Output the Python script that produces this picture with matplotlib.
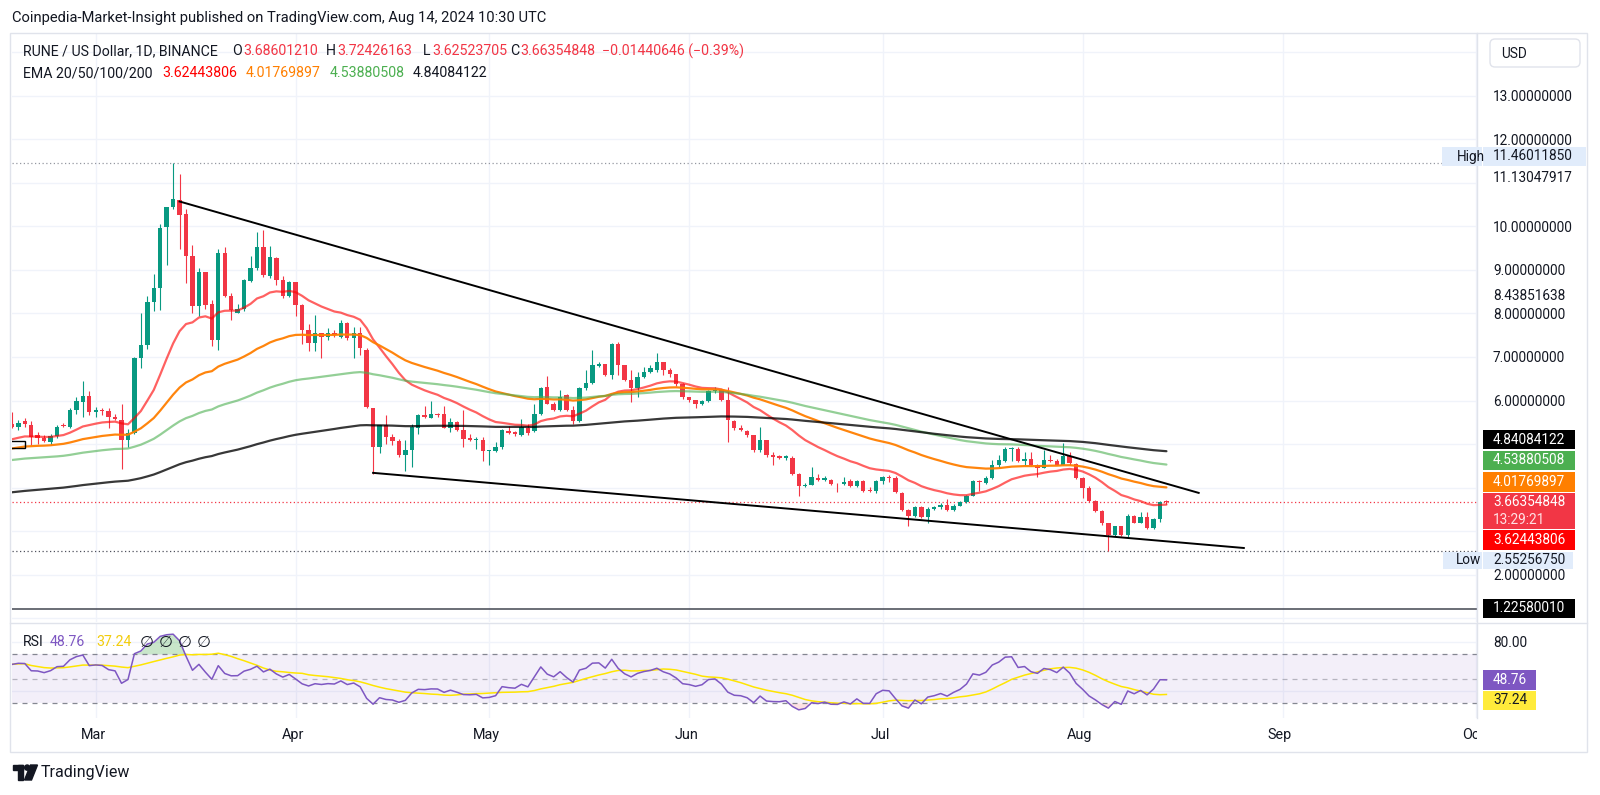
import numpy as np
import pandas as pd
import matplotlib
matplotlib.use('Agg')
import matplotlib.pyplot as plt
import matplotlib.dates as mdates
from matplotlib.patches import Rectangle, FancyBboxPatch, Circle, Polygon
from matplotlib.transforms import Bbox

plt.rcParams['font.family'] = ['Roboto', 'DejaVu Sans']

# RUNE/USD daily candles (Feb 17 .. Aug 14 2024)
dates = pd.date_range('2024-02-17', '2024-08-14', freq='D')

opens = [
    5.47, 5.40, 5.52, 5.45, 5.22, 5.15, 5.05, 5.18, 5.45, 5.40, 5.78, 5.97, 6.10,
    5.73, 5.78, 5.75, 5.63, 5.55, 5.10, 5.25, 6.97, 7.28, 8.27, 8.58, 9.98, 10.44, 10.60, 10.29, 9.31,
    8.17, 8.96, 8.22, 7.39, 9.39, 8.40, 8.02, 8.10, 8.74, 9.04, 9.52, 8.87, 9.27, 8.76, 8.39,
    8.72, 8.20, 7.62, 7.33, 7.55, 7.45, 7.55, 7.46, 7.79, 7.44, 7.55, 7.17, 5.82, 4.93, 5.43,
    5.16, 5.08, 4.74, 4.87, 5.38, 5.66, 5.61, 5.69, 5.68, 5.37, 5.50, 5.32, 5.14, 5.10, 5.10,
    4.84, 4.84, 4.93, 5.30, 5.28, 5.22, 5.37, 5.30, 5.70, 6.30, 5.93, 5.79, 6.12, 5.79, 5.53, 6.28,
    6.41, 6.79, 6.83, 6.58, 7.30, 6.81, 6.48, 6.28, 6.53, 6.66, 6.70, 6.89, 6.71, 6.60, 6.39,
    6.07, 6.02, 5.92, 5.99, 6.22, 6.24, 6.01, 5.53, 5.37, 5.30, 5.20, 4.86, 5.09, 4.76, 4.72,
    4.68, 4.69, 4.32, 4.03, 4.07, 4.22, 4.18, 4.18, 4.09, 4.08, 4.15, 4.03, 4.15, 3.93, 3.92,
    4.15, 4.24, 4.22, 3.87, 3.49, 3.34, 3.55, 3.32, 3.51, 3.55, 3.61, 3.49, 3.59, 3.67, 3.82, 4.16,
    4.10, 4.22, 4.51, 4.61, 4.89, 4.89, 4.62, 4.66, 4.53, 4.46, 4.64, 4.61, 4.53, 4.72, 4.55,
    4.23, 4.00, 3.69, 3.47, 3.18, 2.92, 3.11, 2.92, 3.36, 3.20, 3.32, 3.07, 3.28, 3.68601210,
]
highs = [
    5.74, 5.56, 5.60, 5.52, 5.28, 5.20, 5.24, 5.45, 5.49, 5.82, 6.07, 6.45, 6.22,
    5.85, 5.84, 5.82, 5.69, 5.91, 5.35, 7.01, 8.00, 8.39, 8.91, 10.05, 10.45, 11.46011850, 11.19, 10.39, 9.58,
    9.04, 8.96, 8.30, 9.48, 9.52, 8.46, 8.22, 8.78, 9.31, 9.86, 9.91, 9.55, 9.29, 8.85, 8.74,
    8.72, 8.22, 7.76, 7.97, 7.56, 7.66, 7.63, 7.86, 7.81, 7.68, 7.68, 7.20, 5.82, 5.45, 5.66,
    5.24, 5.12, 5.09, 5.47, 5.70, 5.87, 5.98, 5.71, 5.87, 5.60, 5.54, 5.79, 5.24, 5.16, 5.16,
    4.86, 5.05, 5.34, 5.42, 5.30, 5.58, 5.47, 5.93, 6.30, 6.56, 5.97, 6.24, 6.16, 5.87, 6.31, 6.70,
    7.16, 6.89, 6.85, 7.32, 7.35, 6.81, 6.70, 6.66, 6.78, 6.81, 7.10, 6.89, 6.74, 6.62, 6.41,
    6.09, 6.02, 6.02, 6.25, 6.31, 6.26, 6.31, 5.55, 5.43, 5.32, 5.22, 5.39, 5.10, 4.81, 4.74,
    4.74, 4.72, 4.34, 4.10, 4.47, 4.32, 4.26, 4.20, 4.11, 4.24, 4.20, 4.18, 4.17, 4.02, 4.17,
    4.27, 4.30, 4.26, 3.91, 3.52, 3.57, 3.57, 3.55, 3.57, 3.64, 3.74, 3.63, 3.70, 3.84, 4.18, 4.18,
    4.26, 4.64, 4.74, 4.93, 4.93, 4.93, 4.81, 4.81, 4.55, 4.87, 4.74, 4.66, 5.02, 4.81, 4.57,
    4.25, 4.03, 3.72, 3.49, 3.18, 3.13, 3.13, 3.40, 3.38, 3.43, 3.43, 3.30, 3.69, 3.72426163,
]
lows = [
    5.36, 5.32, 5.39, 4.97, 5.01, 5.05, 4.97, 5.14, 5.39, 5.36, 5.70, 5.63, 5.66,
    5.62, 5.66, 5.38, 5.55, 4.43, 4.93, 5.24, 6.74, 7.19, 8.06, 8.08, 9.11, 10.40, 9.48, 8.71, 8.02,
    7.93, 8.10, 7.25, 7.17, 8.38, 7.85, 8.00, 8.06, 8.72, 9.00, 8.83, 8.82, 8.66, 8.35, 8.37,
    7.93, 7.30, 7.14, 7.14, 6.98, 7.40, 7.47, 7.43, 7.39, 6.97, 7.04, 5.82, 4.31, 4.79, 5.01,
    4.97, 4.70, 4.39, 4.47, 5.24, 5.59, 5.60, 5.62, 5.36, 5.27, 5.30, 4.93, 5.08, 4.89, 4.61,
    4.51, 4.82, 4.89, 5.24, 5.19, 5.18, 5.21, 5.28, 5.66, 5.92, 5.77, 5.77, 5.77, 5.47, 5.51, 6.24,
    6.39, 6.77, 6.56, 6.50, 6.58, 6.46, 5.97, 6.09, 6.51, 6.64, 6.66, 6.58, 6.55, 6.33, 6.03,
    5.97, 5.82, 5.90, 5.97, 6.18, 5.99, 5.05, 5.32, 5.30, 5.17, 4.82, 4.82, 4.70, 4.51, 4.66,
    4.64, 4.28, 3.82, 4.01, 4.05, 4.15, 4.16, 4.07, 3.89, 4.05, 4.01, 4.01, 3.90, 3.90, 3.87,
    4.09, 4.12, 3.87, 3.47, 3.11, 3.32, 3.31, 3.18, 3.49, 3.51, 3.47, 3.47, 3.57, 3.65, 3.80, 3.92,
    4.08, 4.20, 4.44, 4.59, 4.61, 4.60, 4.51, 4.49, 4.24, 4.44, 4.59, 4.51, 4.51, 4.53, 4.21,
    3.77, 3.67, 3.45, 3.15, 2.55256750, 2.90, 2.90, 2.87, 3.18, 3.18, 3.05, 3.05, 3.21, 3.62523705,
]
closes = [
    5.40, 5.48, 5.47, 5.16, 5.15, 5.08, 5.18, 5.39, 5.41, 5.78, 5.99, 6.10, 5.74,
    5.78, 5.76, 5.62, 5.58, 5.10, 5.25, 6.97, 7.28, 8.27, 8.58, 9.95, 10.44, 10.62, 10.27, 9.31, 8.16,
    8.96, 8.20, 7.39, 9.39, 8.40, 8.08, 8.10, 8.76, 9.04, 9.52, 8.89, 9.29, 8.76, 8.39, 8.72,
    8.20, 7.61, 7.33, 7.56, 7.47, 7.55, 7.51, 7.77, 7.43, 7.55, 7.20, 5.86, 4.93, 5.43, 5.16,
    5.08, 4.74, 4.87, 5.39, 5.66, 5.63, 5.68, 5.67, 5.37, 5.50, 5.32, 5.12, 5.10, 5.12, 4.84,
    4.86, 4.93, 5.32, 5.26, 5.23, 5.39, 5.26, 5.70, 6.28, 5.93, 5.79, 6.09, 5.79, 5.53, 6.28, 6.41,
    6.81, 6.83, 6.58, 7.30, 6.81, 6.48, 6.28, 6.53, 6.66, 6.74, 6.89, 6.71, 6.60, 6.39, 6.07,
    6.02, 5.92, 5.99, 6.22, 6.25, 6.01, 5.56, 5.36, 5.33, 5.20, 4.86, 5.09, 4.74, 4.70, 4.69,
    4.72, 4.32, 4.03, 4.07, 4.24, 4.18, 4.22, 4.09, 4.08, 4.14, 4.03, 4.15, 3.92, 3.92, 4.15,
    4.24, 4.22, 3.89, 3.49, 3.34, 3.55, 3.32, 3.51, 3.55, 3.61, 3.49, 3.59, 3.67, 3.82, 4.16, 4.12,
    4.22, 4.51, 4.64, 4.89, 4.91, 4.62, 4.66, 4.51, 4.46, 4.64, 4.61, 4.53, 4.72, 4.56, 4.23,
    4.00, 3.69, 3.47, 3.18, 2.92, 3.11, 2.92, 3.36, 3.20, 3.32, 3.07, 3.28, 3.67, 3.66354848,
]

# EMA settings and their values on the first visible day
ema_spans = [20, 50, 100, 200]
ema_seeds = [5.11, 4.90, 4.635, 3.894]
ema_colors = ['#FF0000', '#FF7F00', '#4CAF50', '#000000']
ema_alphas = [0.62, 0.95, 0.6, 0.78]

# chart drawings
upper_line_dates = ['2024-03-14', '2024-08-19']
upper_line_prices = [10.57, 3.88]
lower_line_dates = ['2024-04-13', '2024-08-26']
lower_line_prices = [4.34, 2.615]
box_dates = ['2024-02-10', '2024-02-19']
box_prices = [4.90, 5.07]
high_price = 11.46011850
low_price = 2.55256750
last_price = 3.66354848
hline_price = 1.22580010

# texts
header = 'Coinpedia-Market-Insight published on TradingView.com, Aug 14, 2024 10:30 UTC'
symbol = 'RUNE / US Dollar, 1D, BINANCE'
ohlc_text = ['3.68601210', '3.72426163', '3.62523705', '3.66354848']
change_text = '\u22120.01440646 (\u22120.39%)'
ema_text = ['3.62443806', '4.01769897', '4.53880508', '4.84084122']
rsi_text = ['48.76', '37.24']
price_ticks = [13, 12, 10, 9, 8, 7, 6, 2]
month_names = ['Mar', 'Apr', 'May', 'Jun', 'Jul', 'Aug', 'Sep', 'Oct']


def ema(vals, span, seed):
    a = 2.0 / (span + 1)
    out = [seed]
    for v in vals[1:]:
        out.append(out[-1] + a * (v - out[-1]))
    return np.array(out)


def rsi(vals, n=14, g0=0.16, l0=0.10):
    ag, al = g0, l0
    out = [100 - 100 / (1 + ag / al)]
    for i in range(1, len(vals)):
        d = vals[i] - vals[i - 1]
        ag = (ag * (n - 1) + max(d, 0)) / n
        al = (al * (n - 1) + max(-d, 0)) / n
        out.append(100 - 100 / (1 + ag / al))
    return np.array(out)


DARK = '#131722'
UP, DOWN = '#089981', '#F23645'
GRID = '#F0F3FA'
BORDER = '#E0E3EB'
FS = 10.2      # legend text
AFS = 9.8      # scale labels

W, H = 1600, 795
fig = plt.figure(figsize=(W / 100, H / 100), dpi=100)
fig.patch.set_facecolor('white')
ax = fig.add_axes([12 / W, 1 - 622 / H, 1465 / W, 588 / H])
ax2 = fig.add_axes([12 / W, 1 - 718 / H, 1465 / W, 94 / H], sharex=ax)
ov = fig.add_axes([0, 0, 1, 1])
ov.set_xlim(0, W)
ov.set_ylim(H, 0)
ov.axis('off')
ov.set_zorder(10)

x = mdates.date2num(dates)
o, h, l, c = (np.array(v) for v in (opens, highs, lows, closes))
col = np.where(c >= o, UP, DOWN)

mar1 = mdates.date2num(pd.Timestamp('2024-03-01'))
ax.set_xlim(mar1 - 12.98, mar1 + 214.15)
ax.set_ylim(0.916, 14.415)
ax2.set_ylim(18.2, 94.2)

months = mdates.date2num(pd.date_range('2024-03-01', '2024-10-01', freq='MS'))
for a in (ax, ax2):
    a.set_xticks(months)
    a.grid(True, color=GRID, lw=1)
    a.set_axisbelow(True)
    for s in a.spines.values():
        s.set_visible(False)
    a.tick_params(axis='x', length=0, labelbottom=False)

# price scale labels
ax.yaxis.tick_right()
ax.set_yticks(range(1, 15))
ax.set_yticklabels([f'{v:.8f}' if v in price_ticks else '' for v in range(1, 15)])
ax.tick_params(axis='y', length=0, pad=11.5, labelsize=AFS, labelcolor=DARK)

# candles
ax.vlines(x, l, h, colors=col, lw=0.8, zorder=3)
ax.bar(x, np.maximum(np.abs(c - o), 0.015), bottom=np.minimum(o, c), width=0.68,
       color=col, lw=0, zorder=4)

# EMAs
for span, seed, ec, ea in zip(ema_spans, ema_seeds, ema_colors, ema_alphas):
    ax.plot(x, ema(c, span, seed), color=ec, alpha=ea, lw=1.6, zorder=5, solid_capstyle='round')

# drawings
ax.plot(mdates.date2num(pd.to_datetime(upper_line_dates)), upper_line_prices, color='black', lw=1.4, zorder=6)
ax.plot(mdates.date2num(pd.to_datetime(lower_line_dates)), lower_line_prices, color='black', lw=1.4, zorder=6)
bx = mdates.date2num(pd.to_datetime(box_dates))
ax.add_patch(Rectangle((bx[0], box_prices[0]), bx[1] - bx[0], box_prices[1] - box_prices[0],
                       fill=False, ec='black', lw=1, zorder=6))
ax.axhline(high_price, color='#9598A1', lw=0.9, ls=(0, (1, 2)), zorder=2)
ax.axhline(low_price, color='#50535E', lw=0.9, ls=(0, (1, 2)), zorder=2)
ax.axhline(last_price, color=DOWN, lw=0.9, ls=(0, (1, 2)), zorder=2)
ax.axhline(hline_price, color='#434651', lw=1.1, zorder=6)

# RSI pane
r = rsi(c)
rma = pd.Series(r).rolling(14, min_periods=1).mean().values
ax2.axhspan(30, 70, color='#7E57C2', alpha=0.09, lw=0)
for lvl, al in ((70, 0.9), (50, 0.5), (30, 0.9)):
    ax2.axhline(lvl, color='#787B86', lw=0.9, ls=(0, (4, 4)), alpha=al)
ax2.fill_between(x, r, 70, where=r > 70, interpolate=True, color='#4CAF50', alpha=0.3, lw=0)
ax2.fill_between(x, r, 30, where=r < 30, interpolate=True, color='#F23645', alpha=0.15, lw=0)
ax2.plot(x, rma, color='#FFE500', lw=1.1)
ax2.plot(x, r, color='#7E57C2', lw=1.1)
ax2.yaxis.tick_right()
ax2.set_yticks([40, 80])
ax2.set_yticklabels(['', '80.00'])
ax2.tick_params(axis='y', length=0, pad=11.5, labelsize=AFS, labelcolor=DARK)

clip = Bbox.from_extents(0, 0, 1477, H)
for m, name in zip(months, month_names):
    t = ax2.text(m - 0.4, -0.181, name, transform=ax2.get_xaxis_transform(), ha='center',
                 va='center', fontsize=10.4, color=DARK)
    t.set_clip_on(True)
    t.set_clip_box(clip)

# frame
ov.add_patch(Rectangle((10, 33), 1577, 719, fill=False, ec=BORDER, lw=1))
ov.plot([1477, 1477], [33, 718], color=BORDER, lw=1)
ov.plot([10, 1587], [623, 623], color=BORDER, lw=1)


def txt(xp, yp, s, color=DARK, size=FS, **kw):
    return ov.text(xp, yp, s, color=color, fontsize=size, va='center', ha='left', **kw)


txt(12, 18, header, size=10.6)

# legend rows
txt(23, 51, symbol)
for lab, val, xl, xv in zip('OHLC', ohlc_text, [232, 326, 423, 510], [243, 337, 432, 520]):
    txt(xl, 51, lab)
    txt(xv, 51, val, color=DOWN)
txt(602, 51, change_text, color=DOWN)

txt(23, 73, 'EMA 20/50/100/200')
for val, xv, ec in zip(ema_text, [162, 246, 330, 413], ['#FF0000', '#FF7F00', '#4CAF50', DARK]):
    txt(xv, 73, val, color=ec)

txt(23, 642, 'RSI')
txt(50, 642, rsi_text[0], color='#7E57C2')
txt(96, 642, rsi_text[1], color='#F2CC0C')
for k in range(4):
    txt(140 + k * 19, 642, '\u2205', size=11.5)

# USD box
ov.add_patch(FancyBboxPatch((1490, 39), 90, 28, boxstyle='round,pad=0,rounding_size=5',
                            fc='white', ec=BORDER, lw=1))
txt(1501, 53.5, 'USD', size=AFS)

# extra price labels
txt(1493, 177.6, '11.13047917', size=AFS)
txt(1493, 295.7, '8.43851638', size=AFS)


def tag(y0, y1, s, fc, tc='white', x0=1483, x1=1575):
    ov.add_patch(Rectangle((x0, y0), x1 - x0, y1 - y0, fc=fc, ec='none', zorder=3))
    txt(1493, (y0 + y1) / 2, s, color=tc, size=AFS, zorder=4)


LBL = '#E1ECFB'
ov.add_patch(Rectangle((1442, 147), 40, 19, fc=LBL, ec='none', zorder=3))
txt(1457, 156.5, 'High', size=AFS, zorder=4)
tag(147, 166, '11.46011850', LBL, DARK, x1=1586)

tag(430, 449, ema_text[3], '#000000')
tag(450.5, 470, ema_text[2], '#4CAF50')
tag(471.5, 491.5, ema_text[1], '#FF7F00')
ov.add_patch(Rectangle((1483, 492.5), 92, 36, fc='#F23645', ec='none', zorder=3))
txt(1493, 502.5, '3.66354848', color='white', size=AFS, zorder=4)
txt(1493, 519.5, '13:29:21', color='#FFE0E3', size=AFS, zorder=4)
tag(530, 550, ema_text[0], '#FF0000')
ov.add_patch(Rectangle((1443, 551.5), 39, 17, fc=LBL, ec='none', zorder=3))
txt(1456, 560, 'Low', size=AFS, zorder=4)
tag(551.5, 568.5, '2.55256750', LBL, DARK, x1=1573)
tag(598.5, 618, '1.22580010', '#000000')

tag(670, 690, rsi_text[0], '#7E57C2', x1=1536)
tag(690.5, 710, rsi_text[1], '#FFEB3B', DARK, x1=1536)

# TradingView logo
ov.add_patch(Rectangle((13, 765), 10, 5, color=DARK))
ov.add_patch(Rectangle((18, 765), 5, 15, color=DARK))
ov.add_patch(Circle((27.2, 767.6), 2.6, color=DARK))
ov.add_patch(Polygon([(30.5, 765), (37.5, 765), (31.5, 780), (24.5, 780)], color=DARK))
txt(41, 773, 'TradingView', size=11.5)

fig.savefig('out.png', dpi=100, facecolor='white')
